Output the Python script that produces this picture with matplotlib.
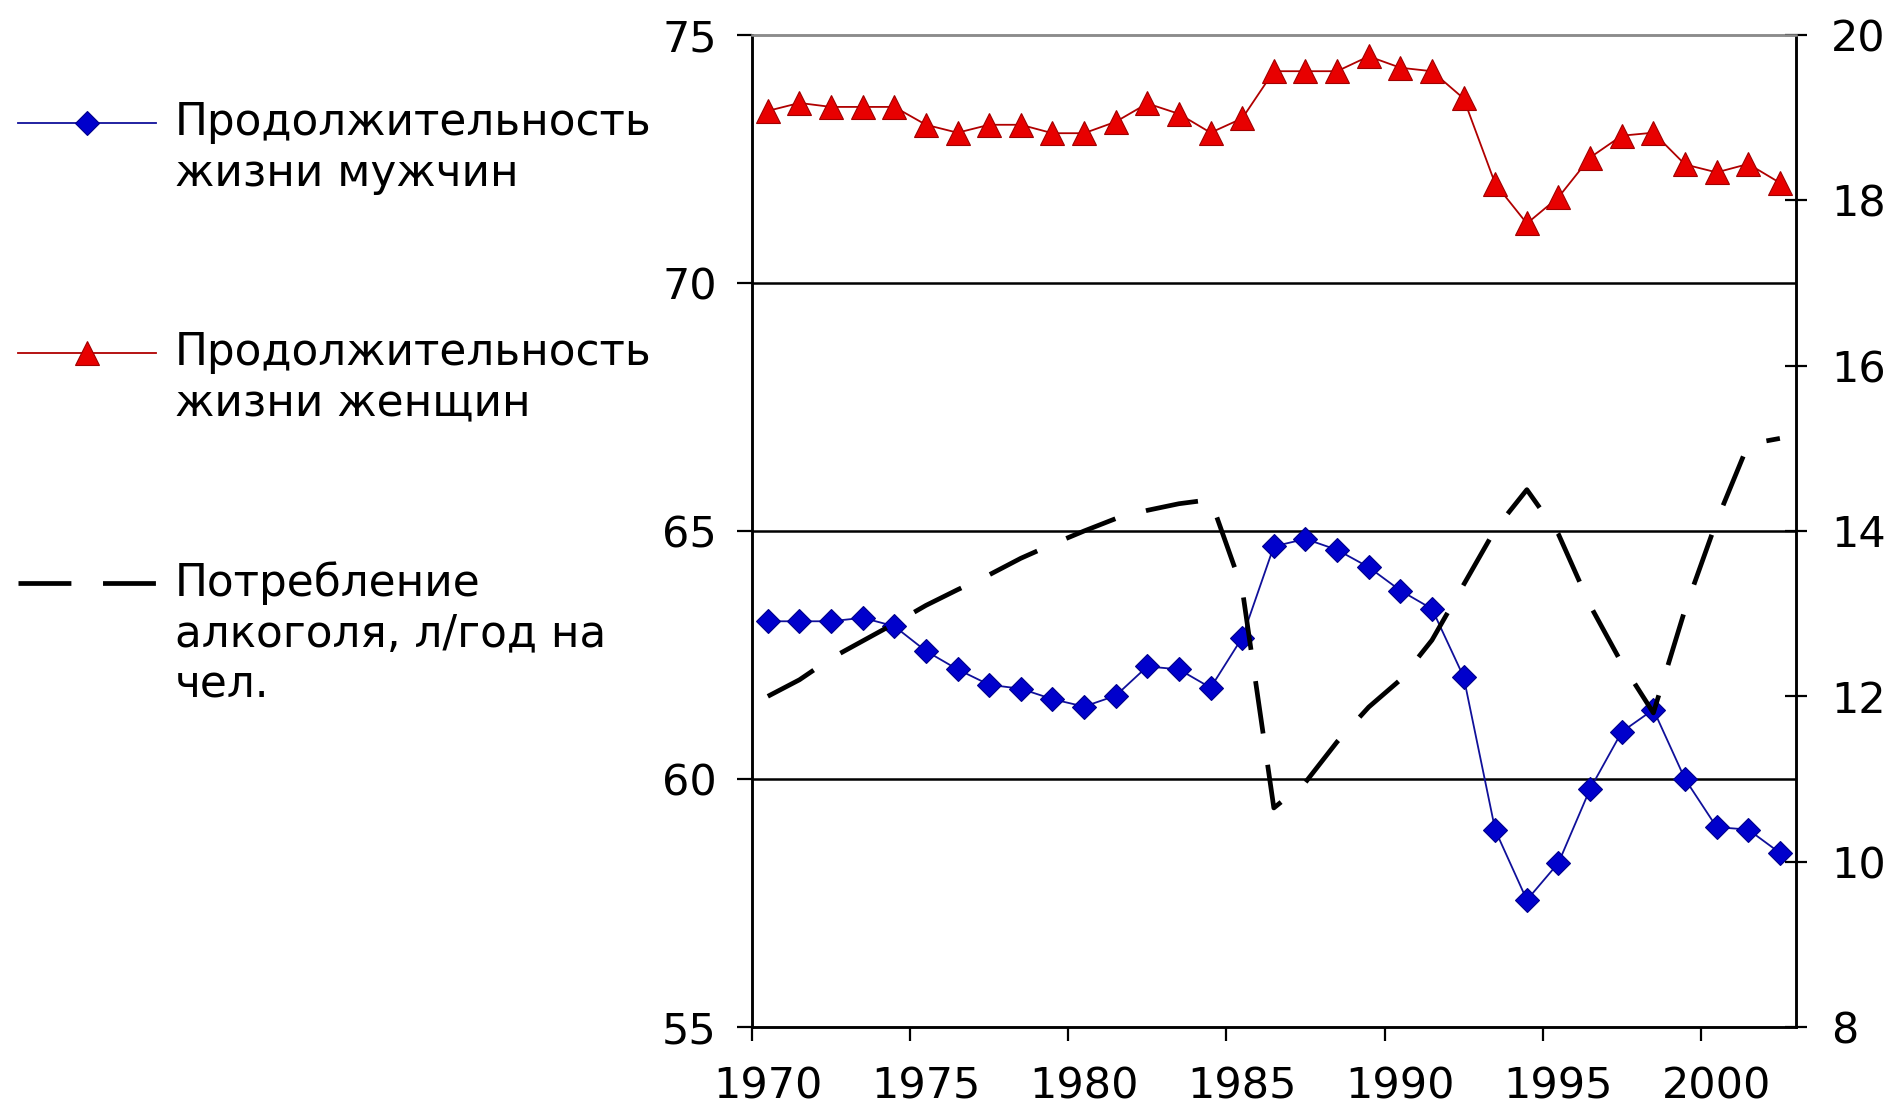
import numpy as np
import matplotlib
matplotlib.use("Agg")
import matplotlib.pyplot as plt

# ---------------- data ----------------
years = list(range(1970, 2003))
male_le = [63.18, 63.18, 63.18, 63.25, 63.08, 62.58, 62.21, 61.90, 61.82, 61.61, 61.46, 61.68,
           62.27, 62.21, 61.84, 62.85, 64.69, 64.84, 64.62, 64.27, 63.80, 63.43, 62.06, 58.97,
           57.56, 58.31, 59.80, 60.95, 61.40, 60.00, 59.03, 58.98, 58.51]
female_le = [73.47, 73.63, 73.55, 73.55, 73.55, 73.19, 73.03, 73.19, 73.19, 73.02, 73.02, 73.25,
             73.62, 73.41, 73.03, 73.32, 74.27, 74.27, 74.27, 74.57, 74.34, 74.27, 73.72, 72.00,
             71.20, 71.73, 72.53, 72.97, 73.03, 72.39, 72.23, 72.40, 72.02]
alcohol = [12.00, 12.20, 12.46, 12.67, 12.88, 13.10, 13.29, 13.47, 13.67, 13.84, 14.00, 14.15,
           14.25, 14.33, 14.38, 13.30, 10.65, 10.96, 11.45, 11.87, 12.20, 12.68, 13.35, 14.02,
           14.50, 13.96, 13.10, 12.40, 11.80, 13.05, 14.12, 15.05, 15.12]

left_ticks = [55, 60, 65, 70, 75]
right_ticks = [8, 10, 12, 14, 16, 18, 20]
label_years = [1970, 1975, 1980, 1985, 1990, 1995, 2000]

labels = ["Продолжительность\nжизни мужчин",
          "Продолжительность\nжизни женщин",
          "Потребление\nалкоголя, л/год на\nчел."]

# ---------------- figure ----------------
W, H = 1895, 1108
FS = 31
LFS = 31.5
plt.rcParams["font.family"] = ["DejaVu Sans"]
fig = plt.figure(figsize=(W / 100, H / 100), dpi=100)
fig.patch.set_facecolor("white")

ax = fig.add_axes([752 / W, 1 - 1027 / H, (1795.7 - 752) / W, (1027 - 35) / H])
ax2 = ax.twinx()

l_male, = ax.plot(years, male_le, color="#10109a", lw=1.3, marker="D", ms=12,
                  markerfacecolor="#0000cc", markeredgecolor="#00008a", markeredgewidth=0.8,
                  zorder=3)
l_female, = ax.plot(years, female_le, color="#b00000", lw=1.3, marker="^", ms=17,
                    markerfacecolor="#e80000", markeredgecolor="#a00000", markeredgewidth=0.8,
                    zorder=3)
lw_alc = 3.4
l_alc, = ax2.plot(years, alcohol, color="black", lw=lw_alc,
                  linestyle=(0, (11.2, 6.7)), dash_capstyle="butt")

# axes limits
ax.set_xlim(years[0] - 0.5, years[-1] + 0.5)
ax.set_ylim(left_ticks[0], left_ticks[-1])
ax2.set_ylim(right_ticks[0], right_ticks[-1])

# left y
ax.set_yticks(left_ticks)
ax.tick_params(axis="y", direction="out", length=10.8, width=1.6, pad=14.5,
               labelsize=FS, colors="black")
ax.yaxis.grid(True, color="black", lw=1.8)
gl = ax.get_ygridlines()
gl[0].set_visible(False)
gl[-1].set_visible(False)
ax.set_axisbelow(True)

# right y
ax2.set_yticks(right_ticks)
ax2.tick_params(axis="y", direction="inout", length=16.5, width=1.6, pad=17,
                labelsize=FS, colors="black")

# x: ticks at category boundaries, labels at category centres
ax.set_xticks([y - 0.5 for y in label_years])
ax.set_xticklabels([])
ax.set_xticks(label_years, [str(y) for y in label_years], minor=True)
ax.tick_params(axis="x", which="major", direction="out", length=10, width=1.6)
ax.tick_params(axis="x", which="minor", length=0, pad=27.5, labelsize=FS)

for a in (ax, ax2):
    for side in ("left", "right", "bottom"):
        a.spines[side].set_color("black")
        a.spines[side].set_linewidth(1.8)
    a.spines["top"].set_color("#8c8c8c")
    a.spines["top"].set_linewidth(1.8)
ax2.xaxis.set_visible(False)

# ---------------- legend ----------------
leg = fig.legend(handles=[l_male, l_female, l_alc], labels=labels,
                 loc="upper left", bbox_to_anchor=(18 / W, 1 - 101.5 / H),
                 frameon=False, fontsize=LFS, handlelength=3.15, handletextpad=0.43,
                 labelspacing=3.12, borderpad=0, borderaxespad=0, numpoints=1,
                 handleheight=1.6)
for t in leg.get_texts():
    t.set_linespacing(1.22)
for col in leg._legend_handle_box.get_children():
    for item in col.get_children():
        item.align = "top"

fig.savefig("out.png", dpi=100, facecolor="white")
